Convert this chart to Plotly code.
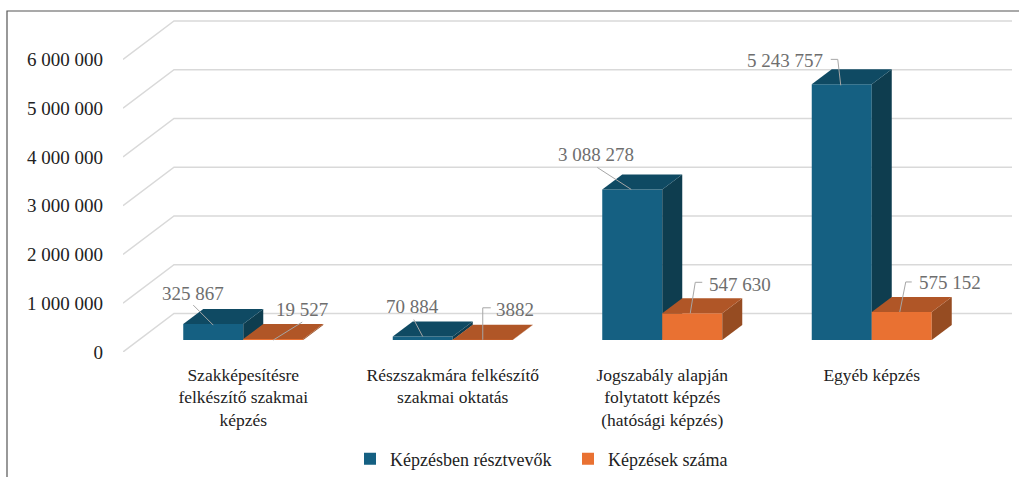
import plotly.graph_objects as go

categories = ["Szakképesítésre<br>felkészítő szakmai<br>képzés",
              "Részszakmára felkészítő<br>szakmai oktatás",
              "Jogszabály alapján<br>folytatott képzés<br>(hatósági képzés)",
              "Egyéb képzés"]
resztvevok = [325867, 70884, 3088278, 5243757]
kepzesek = [19527, 3882, 547630, 575152]
resztvevok_labels = ["325 867", "70 884", "3 088 278", "5 243 757"]
kepzesek_labels = ["19 527", "3882", "547 630", "575 152"]
y_ticks = [0, 1000000, 2000000, 3000000, 4000000, 5000000, 6000000]
y_tick_labels = ["0", "1 000 000", "2 000 000", "3 000 000", "4 000 000", "5 000 000", "6 000 000"]
series_names = ["Képzésben résztvevők", "Képzések száma"]

W, H = 1019, 477
L, R, T, B = 123, 7, 15, 125
PX_X = 209.5            # px per category
PX_Y = 48.75 / 1e6      # px per value unit
xmax = (W - L - R) / PX_X
ymax = (H - T - B) / PX_Y
dxp = lambda p: p / PX_X
dyp = lambda p: p / PX_Y

FONT = "Liberation Serif"
BLUE, BLUE_TOP, BLUE_SIDE = "#156082", "#0f4a63", "#0e3d4f"
ORG, ORG_TOP, ORG_SIDE = "#e97132", "#b05627", "#964c22"
GRID = "#d9d9d9"
LEAD = "#a6a6a6"
LABEL = "#6e6e6e"
TEXT = "#222222"

bar_w = dxp(60)
floor_x = dxp(15.5)
floor_y = dyp(12)
depth_x = dxp(20)
depth_y = dyp(15)
centers = [i + 0.5 + floor_x for i in range(len(categories))]

fig = go.Figure()


def poly(xs, ys, color, ax):
    fig.add_trace(go.Scatter(x=xs, y=ys, mode="lines", fill="toself", fillcolor=color,
                             line=dict(width=0, color=color), showlegend=False, hoverinfo="skip",
                             xaxis=ax[0], yaxis=ax[1]))


def series(vals, sign, name, cf, ct, cs, ax):
    xc = [c + sign * bar_w / 2 for c in centers]
    fig.add_trace(go.Bar(x=xc, y=vals, base=[floor_y] * len(vals), width=bar_w, name=name,
                         marker=dict(color=cf, line=dict(width=0)), xaxis=ax[0], yaxis=ax[1],
                         hoverinfo="skip"))
    for x, v in zip(xc, vals):
        xl, xr = x - bar_w / 2, x + bar_w / 2
        top = floor_y + v
        poly([xr, xr, xr + depth_x, xr + depth_x, xr],
             [floor_y, top, top + depth_y, floor_y + depth_y, floor_y], cs, ax)
        poly([xl, xr, xr + depth_x, xl + depth_x, xl],
             [top, top, top + depth_y, top + depth_y, top], ct, ax)


series(resztvevok, -1, series_names[0], BLUE, BLUE_TOP, BLUE_SIDE, ("x", "y"))
series(kepzesek, 1, series_names[1], ORG, ORG_TOP, ORG_SIDE, ("x2", "y2"))

# gridlines on the side and back walls, computed from the axis ticks
wall_x = dxp(51)
wall_y = dyp(38.5)
shapes = []
for v in y_ticks:
    shapes.append(dict(type="path", layer="below", xref="x", yref="y",
                       path=f"M 0 {v} L {wall_x} {v + wall_y} L {xmax} {v + wall_y}",
                       line=dict(color=GRID, width=1.5)))

# outer frame of the picture
plot_w, plot_h = W - L - R, H - T - B
shapes.append(dict(type="path", xref="paper", yref="paper",
                   path=f"M {(7 - L) / plot_w} {-(B + 2) / plot_h} "
                        f"L {(7 - L) / plot_w} {(H - B - 11) / plot_h} "
                        f"L {(W + 2 - L) / plot_w} {(H - B - 11) / plot_h}",
                   line=dict(color="#555555", width=1.2)))

# label offsets (px) from the top-centre of each bar front: leader start, elbow, end, text centre
res_geom = [((0, 1), (-20, -19), None, (-20, -31)),
            ((0, 0), (-9, -17), None, (-10, -30)),
            ((-1, 0), (-35, -22), None, (-36, -35)),
            ((-1, 1), (-4, -25), (-11, -25), (-57, -24))]
ork_geom = [((0, 1), (29, -17), None, (29, -30)),
            ((0, 0), (0, -32), (8, -32), (32, -30)),
            ((-2, 0), (3, -31), (10, -31), (47.5, -29)),
            ((-2, 0), (4, -30), (10, -30), (48, -29))]


def labels(vals, texts, sign, geoms):
    anns = []
    for c, v, t, g in zip(centers, vals, texts, geoms):
        x0 = c + sign * bar_w / 2
        y0 = floor_y + v
        pts = [p for p in g[:3] if p is not None]
        fig.add_trace(go.Scatter(x=[x0 + dxp(p[0]) for p in pts], y=[y0 - dyp(p[1]) for p in pts],
                                 mode="lines", line=dict(color=LEAD, width=1), showlegend=False,
                                 hoverinfo="skip", xaxis="x2", yaxis="y2"))
        anns.append(dict(x=x0 + dxp(g[3][0]), y=y0 - dyp(g[3][1]), text=t, showarrow=False,
                         xanchor="center", yanchor="middle",
                         font=dict(family=FONT, size=19, color=LABEL)))
    return anns


annotations = labels(resztvevok, resztvevok_labels, -1, res_geom) + labels(kepzesek, kepzesek_labels, 1, ork_geom)

fig.update_layout(
    width=W, height=H, autosize=False,
    margin=dict(l=L, r=R, t=T, b=B, pad=0),
    paper_bgcolor="white", plot_bgcolor="white",
    barmode="overlay", shapes=shapes, annotations=annotations,
    font=dict(family=FONT, size=17.5, color=TEXT),
    xaxis=dict(range=[0, xmax], tickmode="array", tickvals=centers, ticktext=categories,
               showgrid=False, zeroline=False, showline=False, ticks="", ticklabelstandoff=10,
               tickfont=dict(family=FONT, size=17.5, color=TEXT), fixedrange=True, automargin=False),
    yaxis=dict(range=[0, ymax], tickmode="array", tickvals=y_ticks, ticktext=y_tick_labels,
               showgrid=False, zeroline=False, showline=False, ticks="", ticklabelstandoff=19,
               tickfont=dict(family=FONT, size=19, color=TEXT), fixedrange=True, automargin=False),
    xaxis2=dict(range=[0, xmax], overlaying="x", visible=False, fixedrange=True),
    yaxis2=dict(range=[0, ymax], overlaying="y", visible=False, fixedrange=True),
    legend=dict(orientation="h", xref="container", yref="container", x=350 / W, xanchor="left",
                y=1 - 459 / H, yanchor="middle",
                entrywidth=173, entrywidthmode="pixels", traceorder="normal",
                font=dict(family=FONT, size=18, color=TEXT), bgcolor="rgba(0,0,0,0)"),
)

fig.write_html("out.html", config=dict(displayModeBar=False),
               post_script="document.body.style.margin='0';document.documentElement.style.overflow='hidden';")
